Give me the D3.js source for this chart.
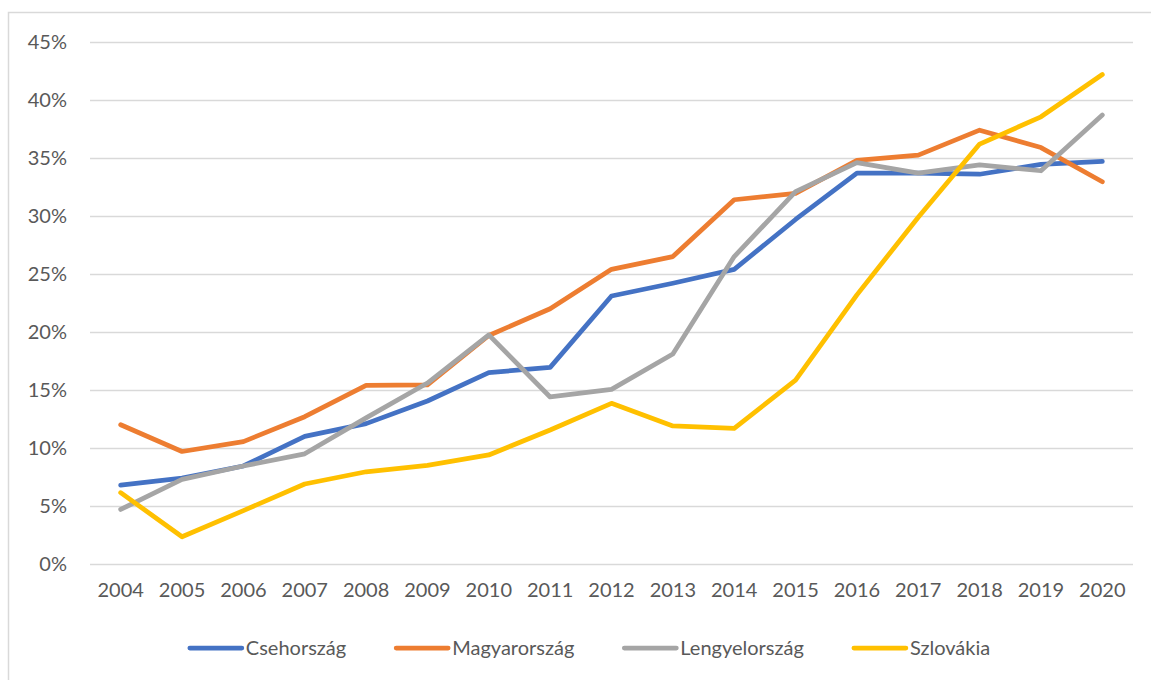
<!DOCTYPE html>
<html>
<head>
<meta charset="utf-8">
<script src="https://cdn.jsdelivr.net/npm/d3@7"></script>
<style>
  html, body { margin: 0; padding: 0; background: #fff; }
  svg { display: block; }
  text { font-family: Lato, "Open Sans", sans-serif; fill: #595959; }
</style>
</head>
<body>
<svg id="chart" width="1151" height="680"></svg>
<script>
const years = ["2004","2005","2006","2007","2008","2009","2010","2011","2012","2013","2014","2015","2016","2017","2018","2019","2020"];
const seriesNames = ["Csehország", "Magyarország", "Lengyelország", "Szlovákia"];
const cseh   = [6.8, 7.4, 8.45, 11.0, 12.1, 14.05, 16.5, 16.95, 23.1, 24.2, 25.4, 29.7, 33.7, 33.7, 33.6, 34.45, 34.7];
const magyar = [12.0, 9.7, 10.55, 12.7, 15.4, 15.45, 19.7, 22.0, 25.4, 26.5, 31.4, 31.95, 34.8, 35.25, 37.4, 35.9, 32.95];
const lengyel= [4.7, 7.3, 8.45, 9.5, 12.6, 15.6, 19.75, 14.4, 15.05, 18.1, 26.5, 32.1, 34.6, 33.7, 34.4, 33.9, 38.7];
const szlovak = [6.15, 2.35, 4.6, 6.9, 7.95, 8.5, 9.4, 11.55, 13.85, 11.9, 11.7, 15.85, 23.2, 29.9, 36.2, 38.55, 42.2];
const yTicks = [0, 5, 10, 15, 20, 25, 30, 35, 40, 45];
const colors = ["#4472C4", "#ED7D31", "#A5A5A5", "#FFC000"];

const series = [cseh, magyar, lengyel, szlovak];
const svg = d3.select("#chart");

// outer frame
svg.append("rect").attr("x", 8.5).attr("y", 12.5).attr("width", 1200).attr("height", 700)
  .attr("fill", "none").attr("stroke", "#D9D9D9").attr("stroke-width", 1.5);

const plotLeft = 90, plotRight = 1133, plotTop = 42, plotBottom = 564;
const x = d3.scaleBand().domain(years).range([plotLeft, plotRight]).padding(0);
const y = d3.scaleLinear().domain([0, 45]).range([plotBottom, plotTop]);

// gridlines
svg.append("g").selectAll("line").data(yTicks).join("line")
  .attr("x1", plotLeft).attr("x2", plotRight)
  .attr("y1", d => Math.round(y(d)) + 0.5).attr("y2", d => Math.round(y(d)) + 0.5)
  .attr("stroke", "#D9D9D9").attr("stroke-width", 1.5);

// y labels
const yAxis = d3.axisLeft(y).tickValues(yTicks).tickFormat(d => d + "%").tickSize(0).tickPadding(0);
const gy = svg.append("g").attr("transform", `translate(67,0)`).call(yAxis);
gy.select(".domain").remove();
gy.selectAll("text").style("font-size", "20px").style("font-family", "Lato, sans-serif").attr("fill", "#595959");

// x labels
const xAxis = d3.axisBottom(x).tickSize(0).tickPadding(0);
const gx = svg.append("g").attr("transform", `translate(0,${plotBottom + 19})`).call(xAxis);
gx.select(".domain").remove();
gx.selectAll("text").style("font-size", "20px").style("font-family", "Lato, sans-serif").attr("fill", "#595959");

// lines
const line = d3.line().x((d, i) => x(years[i]) + x.bandwidth() / 2).y(d => y(d));
svg.append("g").selectAll("path").data(series).join("path")
  .attr("d", d => line(d))
  .attr("fill", "none")
  .attr("stroke", (d, i) => colors[i])
  .attr("stroke-width", 4.75)
  .attr("stroke-linejoin", "round")
  .attr("stroke-linecap", "round");

// legend
const legend = svg.append("g");
const items = legend.selectAll("g").data(seriesNames).join("g");
items.append("line").attr("x1", 0).attr("x2", 52).attr("y1", 0).attr("y2", 0)
  .attr("stroke", (d, i) => colors[i]).attr("stroke-width", 4.75).attr("stroke-linecap", "round");
items.append("text").attr("x", 56).attr("y", 0).attr("dy", "0.35em")
  .style("font-size", "20px").text(d => d);
let cx = 0;
const positions = [];
items.each(function(d, i) {
  const w = 56 + d3.select(this).select("text").node().getComputedTextLength();
  positions.push(cx);
  cx += w + 50;
});
const totalW = cx - 50;
const startX = 590 - totalW / 2;
items.attr("transform", (d, i) => `translate(${startX + positions[i]},648)`);
</script>
</body>
</html>
